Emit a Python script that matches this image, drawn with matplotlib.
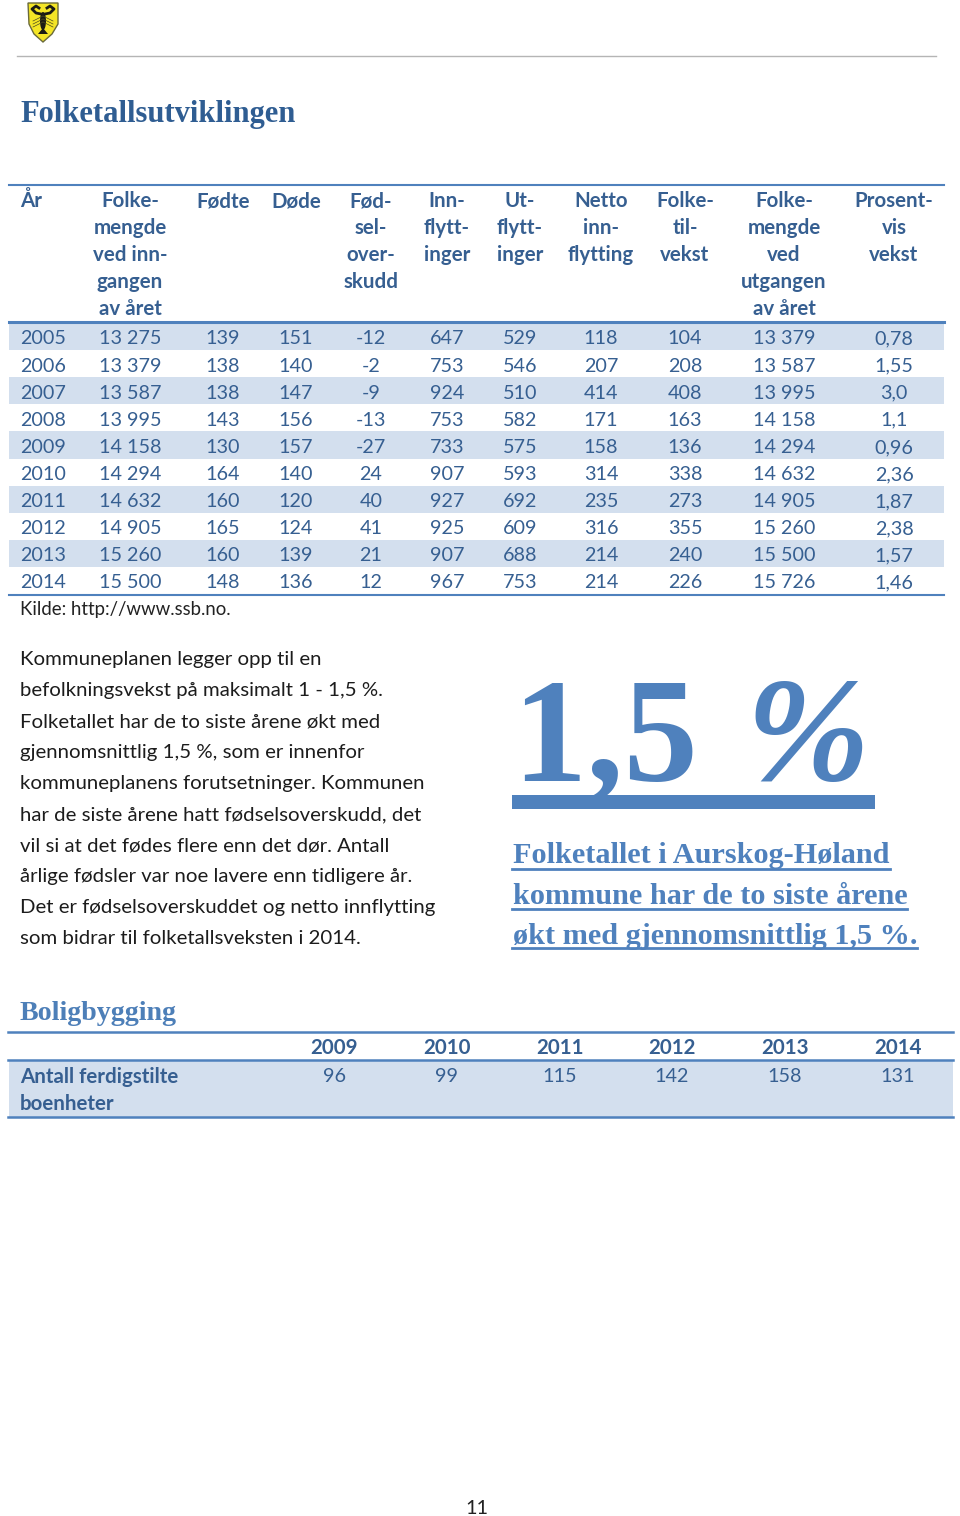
import matplotlib
matplotlib.use('Agg')
import matplotlib.pyplot as plt
from matplotlib.patches import Polygon, Rectangle, Ellipse

plt.rcParams['font.family'] = ['Lato', 'DejaVu Sans']

BLUE = '#4f81bd'
DARK = '#365f91'
BAND = '#d3dfee'
SERIF = 'Liberation Serif'

# table data
headers = [['År'], ['Folke-', 'mengde', 'ved inn-', 'gangen', 'av året'], ['Fødte'], ['Døde'],
           ['Fød-', 'sel-', 'over-', 'skudd'], ['Inn-', 'flytt-', 'inger'], ['Ut-', 'flytt-', 'inger'],
           ['Netto', 'inn-', 'flytting'], ['Folke-', 'til-', 'vekst'],
           ['Folke-', 'mengde', 'ved', 'utgangen', 'av året'], ['Prosent-', 'vis', 'vekst']]
years = [2005, 2006, 2007, 2008, 2009, 2010, 2011, 2012, 2013, 2014]
pop_start = ['13 275', '13 379', '13 587', '13 995', '14 158', '14 294', '14 632', '14 905', '15 260', '15 500']
born = [139, 138, 138, 143, 130, 164, 160, 165, 160, 148]
dead = [151, 140, 147, 156, 157, 140, 120, 124, 139, 136]
surplus = [-12, -2, -9, -13, -27, 24, 40, 41, 21, 12]
moved_in = [647, 753, 924, 753, 733, 907, 927, 925, 907, 967]
moved_out = [529, 546, 510, 582, 575, 593, 692, 609, 688, 753]
net_in = [118, 207, 414, 171, 158, 314, 235, 316, 214, 214]
growth = [104, 208, 408, 163, 136, 338, 273, 355, 240, 226]
pop_end = ['13 379', '13 587', '13 995', '14 158', '14 294', '14 632', '14 905', '15 260', '15 500', '15 726']
pct = ['0,78', '1,55', '3,0', '1,1', '0,96', '2,36', '1,87', '2,38', '1,57', '1,46']
columns = [years, pop_start, born, dead, surplus, moved_in, moved_out, net_in, growth, pop_end, pct]
col_x = [42, 130, 223, 296, 371, 447, 520, 601, 685, 784, 894]

body = ['Kommuneplanen legger opp til en',
        'befolkningsvekst på maksimalt 1 - 1,5 %.',
        'Folketallet har de to siste årene økt med',
        'gjennomsnittlig 1,5 %, som er innenfor',
        'kommuneplanens forutsetninger. Kommunen',
        'har de siste årene hatt fødselsoverskudd, det',
        'vil si at det fødes flere enn det dør. Antall',
        'årlige fødsler var noe lavere enn tidligere år.',
        'Det er fødselsoverskuddet og netto innflytting',
        'som bidrar til folketallsveksten i 2014.']
quote = ['Folketallet i Aurskog-Høland', 'kommune har de to siste årene', 'økt med gjennomsnittlig 1,5 %.']
quote_end = [890, 907, 917]

house_years = [2009, 2010, 2011, 2012, 2013, 2014]
house_done = [96, 99, 115, 142, 158, 131]
house_x = [334, 447, 560, 672, 785, 898]

fig = plt.figure(figsize=(9.6, 15.16), dpi=100)
ax = fig.add_axes([0, 0, 1, 1])
ax.set_xlim(0, 960)
ax.set_ylim(1516, 0)
ax.axis('off')

# logo, a rough crayfish on a yellow shield
ax.add_patch(Polygon([(28, 3), (58, 3), (58, 24), (52, 34), (43, 42), (34, 34), (29, 24)],
                     closed=True, fc='#f4e526', ec='#6a6a3a', lw=1))
ax.add_patch(Ellipse((43, 21), 6, 18, fc='#1c1c14'))
ax.plot([41, 36, 32, 36, 39], [14, 13, 9, 6, 8], color='#1c1c14', lw=2)
ax.plot([45, 50, 54, 50, 47], [14, 13, 9, 6, 8], color='#1c1c14', lw=2)
ax.add_patch(Polygon([(38, 34), (48, 34), (43, 28)], closed=True, fc='#1c1c14'))
for dy in [16, 19, 22]:
    ax.plot([43, 33], [dy, dy + 5], color='#4a4a20', lw=0.5)
    ax.plot([43, 53], [dy, dy + 5], color='#4a4a20', lw=0.5)
ax.plot([17, 936], [55.5, 55.5], color='#b5b5b5', lw=1)

ax.text(20, 122, 'Folketallsutviklingen', family=SERIF, weight='bold', fontsize=22, color='#2f5d92', va='baseline')

# population table
row_h = 27.1
row_top = 323
for i in range(len(years)):
    if i % 2 == 0:
        ax.add_patch(Rectangle((9, row_top + i * row_h), 935, row_h, fc=BAND, ec='none'))
for y, w in [(185, 1.5), (322, 2.2), (595, 1.5)]:
    ax.plot([9, 944], [y, y], color=BLUE, lw=w)

for j, lines in enumerate(headers):
    for k, line in enumerate(lines):
        x, ha = (20, 'left') if j == 0 else (col_x[j], 'center')
        ax.text(x, 207 + k * 27.1, line, ha=ha, va='baseline', fontsize=14.8, weight='bold', color=DARK)
for j, col in enumerate(columns):
    for i, val in enumerate(col):
        x, ha = (20, 'left') if j == 0 else (col_x[j], 'center')
        ax.text(x, 344.5 + i * row_h, str(val), ha=ha, va='baseline', fontsize=14.2, color=DARK)

ax.text(20, 615, 'Kilde: http://www.ssb.no.', fontsize=13.4, color='#222222', va='baseline')

for i, line in enumerate(body):
    ax.text(20, 665 + i * 31, line, fontsize=14.7, color='#1c1c1c', va='baseline')

# pull quote
ax.text(512, 780, '1,5', family=SERIF, weight='bold', fontsize=107, color=BLUE, va='baseline')
ax.text(745, 780, '%', family=SERIF, weight='bold', style='italic', fontsize=107, color=BLUE, va='baseline')
ax.add_patch(Rectangle((512, 795), 363, 14, fc=BLUE, ec='none'))
for i, line in enumerate(quote):
    ax.text(513, 863 + i * 40.5, line, family=SERIF, weight='bold', fontsize=21.8, color=BLUE, va='baseline')
    ax.plot([512, quote_end[i]], [869 + i * 39.5] * 2, color=BLUE, lw=2)

# housing table
ax.text(20, 1020, 'Boligbygging', family=SERIF, weight='bold', fontsize=20.2, color='#4d7fb8', va='baseline')
ax.add_patch(Rectangle((9, 1060), 944, 57, fc=BAND, ec='none'))
for y, w in [(1032, 1.8), (1060, 1.8), (1117, 1.8)]:
    ax.plot([8, 953], [y, y], color=BLUE, lw=w)
for x, yr, n in zip(house_x, house_years, house_done):
    ax.text(x, 1054.5, str(yr), ha='center', va='baseline', fontsize=14.8, weight='bold', color=DARK)
    ax.text(x, 1082.5, str(n), ha='center', va='baseline', fontsize=14.2, color=DARK)
ax.text(20, 1083, 'Antall ferdigstilte', fontsize=14.8, weight='bold', color=DARK, va='baseline')
ax.text(20, 1110.5, 'boenheter', fontsize=14.8, weight='bold', color=DARK, va='baseline')

ax.text(477, 1514, '11', ha='center', va='baseline', fontsize=14.2, color='#222222')

fig.savefig('out.png', dpi=100)
